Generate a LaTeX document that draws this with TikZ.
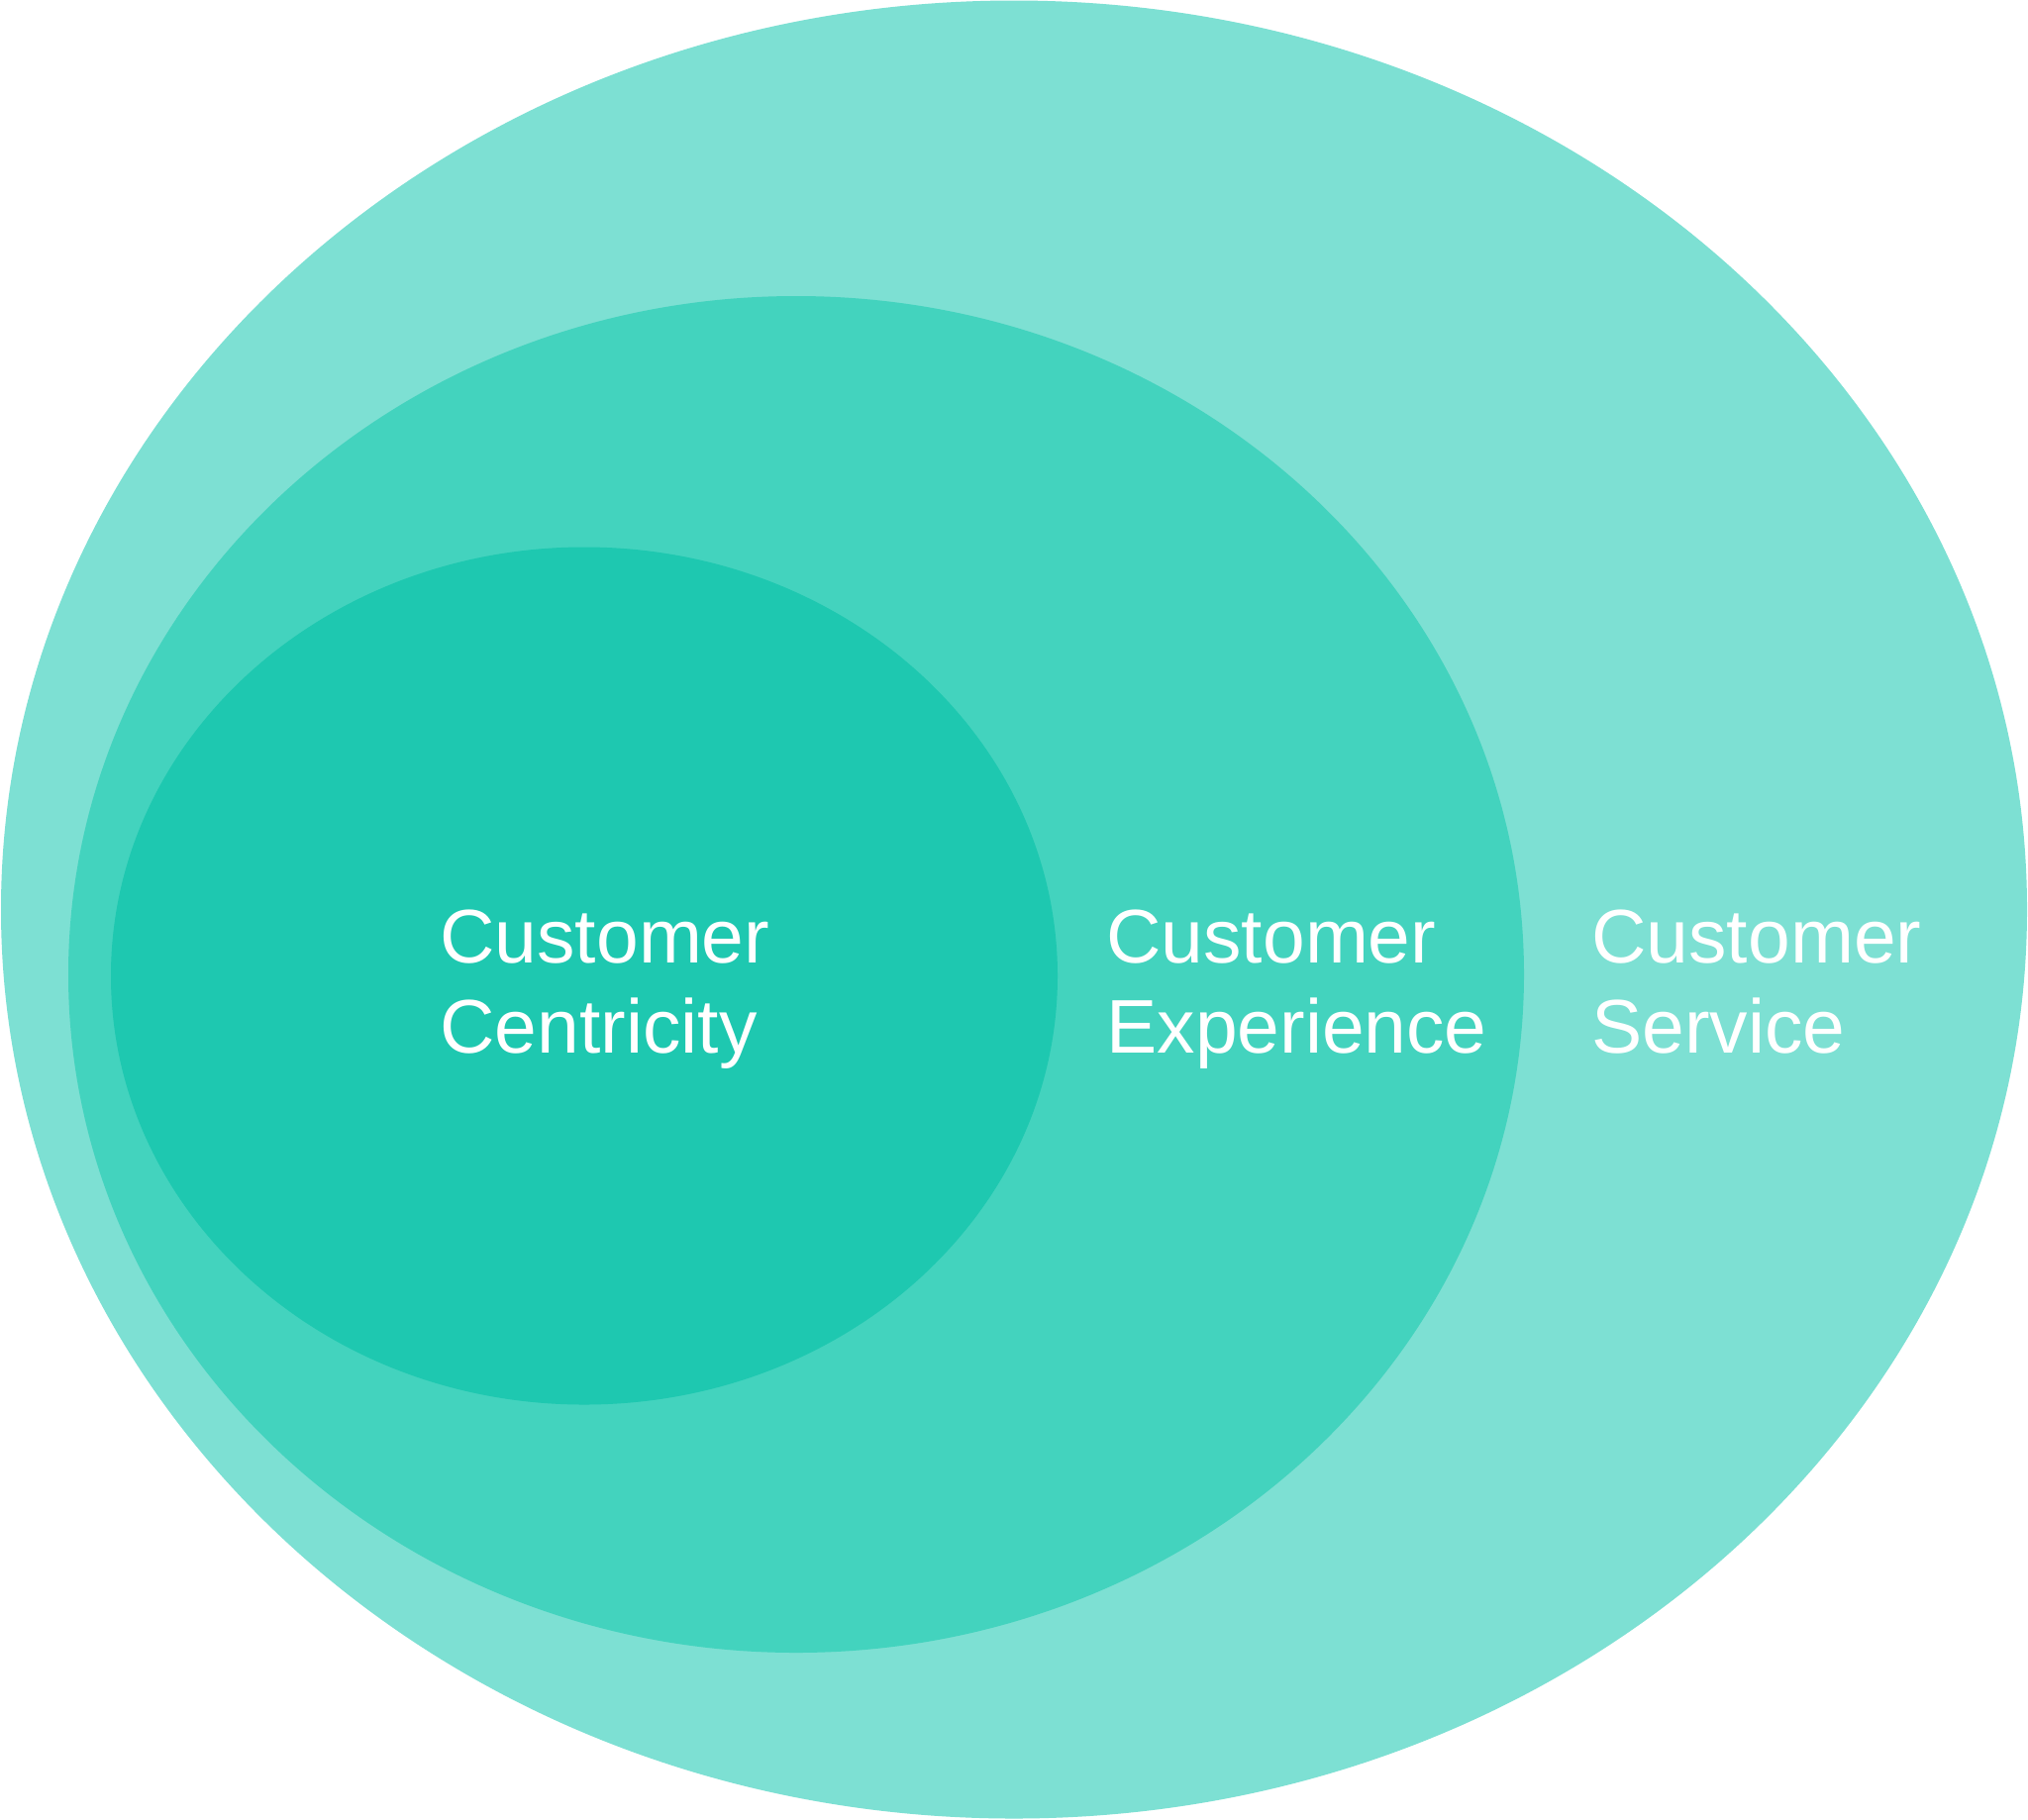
\documentclass[tikz,border=0pt]{standalone}
\usepackage{fontspec}
\setmainfont{Liberation Sans}
\usetikzlibrary{shapes.geometric}
\definecolor{ringouter}{RGB}{125,224,211}
\definecolor{ringmiddle}{RGB}{67,211,190}
\definecolor{ringinner}{RGB}{30,200,176}
\tikzset{
  ring/.style={ellipse, draw=none, inner sep=0pt},
  lbl/.style={anchor=base west, inner sep=0pt, text=white, font=\fontsize{38.4}{46}\selectfont}
}
\begin{document}
\begin{tikzpicture}[x=0.5pt, y=-0.5pt]
\useasboundingbox (0,0) rectangle (2048,1837);
\fill[white] (0,0) rectangle (2048,1837);
\node[ring, fill=ringouter, minimum width=1023pt, minimum height=918pt] (outer) at (1024,918.5) {};
\node[ring, fill=ringmiddle, minimum width=735pt, minimum height=685pt] (middle) at (804,984) {};
\node[ring, fill=ringinner, minimum width=478pt, minimum height=433pt] (inner) at (590,985.5) {};
\node[lbl] (c1) at (444,972) {Customer};
\node[lbl] (c2) at (444,1063) {Centricity};
\node[lbl] (e1) at (1117,972) {Customer};
\node[lbl] (e2) at (1117,1063) {Experience};
\node[lbl] (s1) at (1607,972) {Customer};
\node[lbl] (s2) at (1607,1063) {Service};
\end{tikzpicture}
\end{document}
